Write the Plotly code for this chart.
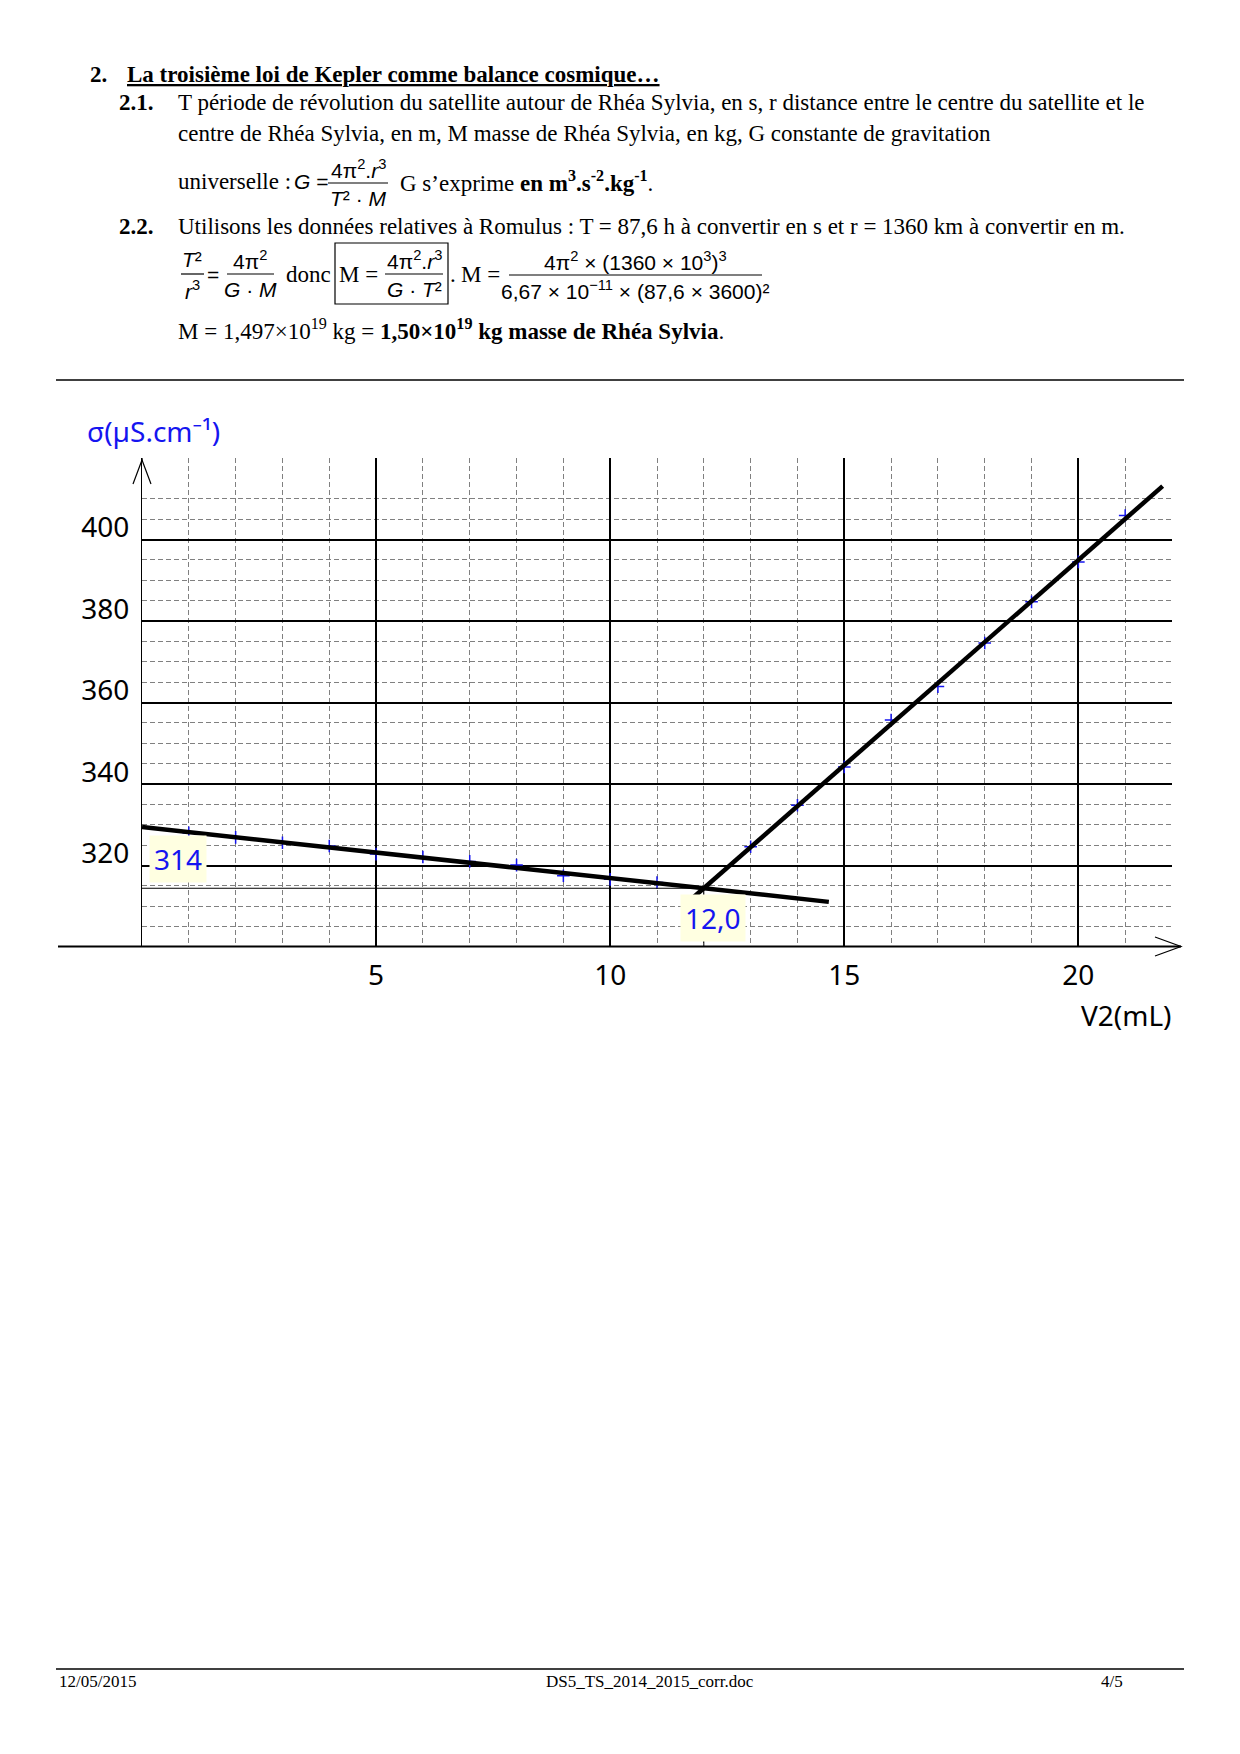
import numpy as np
import plotly.graph_objects as go

# ---------------- data ----------------
v_before = [1, 2, 3, 4, 5, 6, 7, 8, 9, 10, 11]
sigma_before = [328.0, 326.9, 325.6, 324.8, 322.8, 322.1, 321.0, 320.1, 317.5, 316.6, 315.8]
v_after = [13, 14, 15, 16, 17, 18, 19, 20, 21]
sigma_after = [324.6, 334.8, 344.2, 355.7, 363.9, 374.6, 384.7, 394.5, 405.9]

x_ticks = [5, 10, 15, 20]
x_tick_labels = ["5", "10", "15", "20"]
y_ticks = [320, 340, 360, 380, 400]
y_tick_labels = ["320", "340", "360", "380", "400"]
x_minor = [1, 2, 3, 4, 6, 7, 8, 9, 11, 12, 13, 14, 16, 17, 18, 19, 21]
y_minor = [305, 310, 315, 325, 330, 335, 345, 350, 355, 365, 370, 375, 385, 390, 395, 405, 410]
x_range = [0, 22]
y_range = [300, 420]
fit1_span = [0, 14.67]
fit2_span = [11.7, 21.8]

# ---------------- geometry ----------------
W, H = 1240, 1754
ML, MR, MT, MB = 142, 68, 458, 807
PW = W - ML - MR
PH = H - MT - MB


def px(x):
    return (x - ML) / PW


def py(y):
    return (H - MB - y) / PH


SERIF = "Liberation Serif"
SANS = "Liberation Sans"
CHART = "Noto Sans"
BLUE = "#1515f0"

annotations = []
shapes = []


def txt(x, y, s, size=23, family=SERIF, xanchor="left", color="black", **kw):
    d = dict(x=px(x), y=py(y), xref="paper", yref="paper", text=s, showarrow=False,
             xanchor=xanchor, yanchor="middle",
             font=dict(family=family, size=size, color=color), borderpad=0)
    d.update(kw)
    annotations.append(d)


def hline(x0, x1, y, w=1.0, color="black"):
    shapes.append(dict(type="line", xref="paper", yref="paper", x0=px(x0), x1=px(x1),
                       y0=py(y), y1=py(y), line=dict(color=color, width=w)))


def frac(xc, ybar, x0, x1, num, den, size=21, gap=14.5):
    txt(xc, ybar - gap, num, size, SANS, "center")
    txt(xc, ybar + gap + 1, den, size, SANS, "center")
    hline(x0, x1, ybar, 1.2)


# ---------------- document text ----------------
txt(89, 74, "<b>2.</b>", 23)
txt(126, 74, "<b><u>La troisième loi de Kepler comme balance cosmique…</u></b>", 23)
txt(118, 103, "<b>2.1.</b>", 23)
txt(177, 103, "T période de révolution du satellite autour de Rhéa Sylvia, en s, r distance entre le centre du satellite et le", 23)
txt(177, 133, "centre de Rhéa Sylvia, en m, M masse de Rhéa Sylvia, en kg, G constante de gravitation", 23)
txt(177, 182, "universelle :", 23)
txt(293, 182, "<i>G</i> =", 21, SANS)
frac(358, 183, 328, 388, "4π<sup>2</sup>.<i>r</i><sup>3</sup>", "<i>T</i>² · <i>M</i>")
txt(399, 181, "G s’exprime <b>en m<sup>3</sup>.s<sup>-2</sup>.kg<sup>-1</sup></b>.", 23)

txt(118, 226, "<b>2.2.</b>", 23)
txt(177, 226, "Utilisons les données relatives à Romulus : T = 87,6 h à convertir en s et r = 1360 km à convertir en m.", 23)

frac(192, 274, 181, 204, "<i>T</i>²", "<i>r</i><sup>3</sup>")
txt(206, 274, "=", 21, SANS)
frac(250, 274, 227, 274, "4π<sup>2</sup>", "<i>G</i> · <i>M</i>")
txt(285, 274, "donc", 23)
shapes.append(dict(type="rect", xref="paper", yref="paper", x0=px(335), x1=px(448),
                   y0=py(243), y1=py(304), line=dict(color="black", width=1.2)))
txt(338, 274, "M =", 23)
frac(414, 274, 385, 443, "4π<sup>2</sup>.<i>r</i><sup>3</sup>", "<i>G</i> · <i>T</i>²")
txt(449, 274, ".", 23)
txt(460, 274, "M =", 23)
frac(635, 275, 509, 762, "4π<sup>2</sup> × (1360 × 10<sup>3</sup>)<sup>3</sup>",
     "6,67 × 10<sup>−11</sup> × (87,6 × 3600)²")

txt(177, 329, "M = 1,497×10<sup>19</sup> kg = <b>1,50×10<sup>19</sup> kg masse de Rhéa Sylvia</b>.", 23)

hline(56, 1184, 380, 1.5)
hline(56, 1184, 1669, 1.5)
txt(58, 1682, "12/05/2015", 17)
txt(650, 1682, "DS5_TS_2014_2015_corr.doc", 17, SERIF, "center")
txt(1112, 1682, "4/5", 17, SERIF, "center")

# ---------------- chart ----------------
a1, b1 = np.polyfit(v_before, sigma_before, 1)
a2, b2 = np.polyfit(v_after, sigma_after, 1)
xi = (b2 - b1) / (a1 - a2)
yi = a1 * xi + b1

fig = go.Figure()
fig.add_trace(go.Scatter(x=v_before + v_after, y=sigma_before + sigma_after, mode="markers",
                         marker=dict(symbol="cross-thin", size=9, line=dict(color=BLUE, width=1.5)),
                         hoverinfo="skip"))
fig.add_trace(go.Scatter(x=[xi, xi], y=[y_range[0], yi], mode="lines",
                         line=dict(color="black", width=1), hoverinfo="skip"))
fig.add_trace(go.Scatter(x=[x_range[0], xi], y=[yi, yi], mode="lines",
                         line=dict(color="black", width=1), hoverinfo="skip"))
f1x = np.array(fit1_span)
f2x = np.array(fit2_span)
fig.add_trace(go.Scatter(x=f1x, y=a1 * f1x + b1, mode="lines",
                         line=dict(color="black", width=4.5), hoverinfo="skip"))
fig.add_trace(go.Scatter(x=f2x, y=a2 * f2x + b2, mode="lines",
                         line=dict(color="black", width=4.5), hoverinfo="skip"))

# axis arrows and extended x axis
shapes.append(dict(type="line", xref="paper", yref="paper", x0=px(58), x1=px(1181),
                   y0=py(946.5), y1=py(946.5), line=dict(color="black", width=2)))
shapes.append(dict(type="path", xref="paper", yref="paper",
                   path=f"M {px(1155)} {py(937)} L {px(1181)} {py(946.5)} L {px(1155)} {py(956)}",
                   line=dict(color="black", width=1.2)))
shapes.append(dict(type="path", xref="paper", yref="paper",
                   path=f"M {px(133)} {py(484)} L {px(142)} {py(460)} L {px(151)} {py(484)}",
                   line=dict(color="black", width=1.2)))
shapes.append(dict(type="line", xref="paper", yref="paper", x0=px(142), x1=px(142),
                   y0=py(458), y1=py(461), line=dict(color="black", width=1.2)))

# chart labels
txt(86, 431, "σ(µS.cm⁻¹)", 28, CHART, "left", BLUE)
txt(1172, 1015, "V2(mL)", 28, CHART, "right")
txt(177.5, 859, f"{yi:.0f}", 28, CHART, "center", BLUE, bgcolor="#ffffe1", borderpad=4)
txt(713, 918, f"{xi:.1f}".replace(".", ","), 28, CHART, "center", BLUE, bgcolor="#ffffe1", borderpad=4)

fig.update_layout(
    width=W, height=H,
    margin=dict(l=ML, r=MR, t=MT, b=MB, pad=0),
    paper_bgcolor="white", plot_bgcolor="white",
    showlegend=False,
    annotations=annotations, shapes=shapes,
    xaxis=dict(range=x_range, tickvals=x_ticks, ticktext=x_tick_labels,
               showgrid=True, gridcolor="black", gridwidth=1.5, zeroline=False,
               showline=False, ticks="", ticklabelstandoff=9,
               tickfont=dict(family=CHART, size=28, color="black"),
               minor=dict(tickvals=x_minor, showgrid=True, gridcolor="#808080",
                          gridwidth=1.2, griddash="5px,3px", ticks=""),
               fixedrange=True),
    yaxis=dict(range=y_range, tickvals=y_ticks, ticktext=y_tick_labels,
               showgrid=True, gridcolor="black", gridwidth=1.5, zeroline=False,
               showline=True, linecolor="black", linewidth=1.2,
               ticks="", ticklabelstandoff=6, ticklabelshift=-12,
               tickfont=dict(family=CHART, size=28, color="black"),
               minor=dict(tickvals=y_minor, showgrid=True, gridcolor="#808080",
                          gridwidth=1.2, griddash="5px,3px", ticks=""),
               fixedrange=True),
)

fig.write_html("out.html", config={"displayModeBar": False},
               post_script="document.body.style.margin='0';")
